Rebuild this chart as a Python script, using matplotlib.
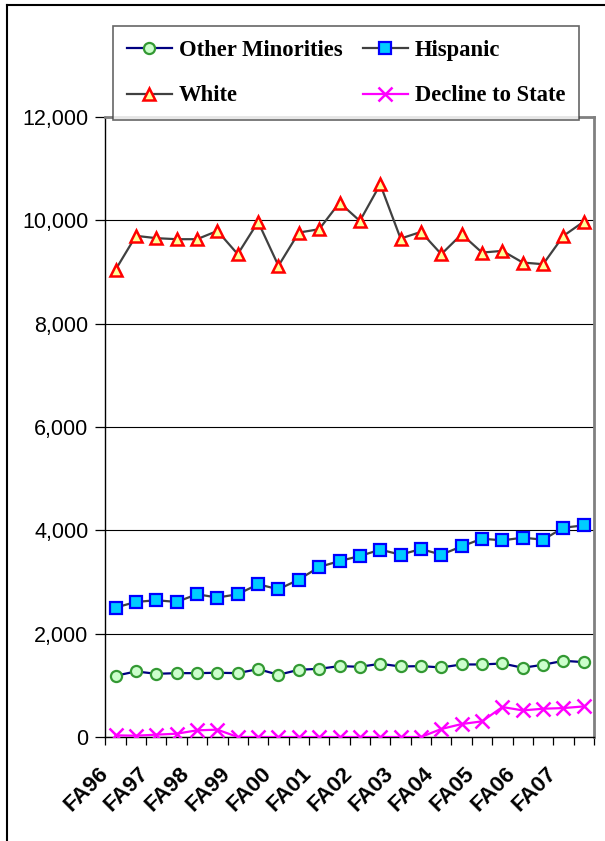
import matplotlib
matplotlib.use("Agg")
import matplotlib.pyplot as plt
from matplotlib.lines import Line2D
from matplotlib.ticker import FuncFormatter

# ---------------------------------------------------------------------------
# Data
# ---------------------------------------------------------------------------
terms = []
for yr in range(96, 108):
    terms.append("FA%02d" % (yr % 100))
    terms.append("SP%02d" % ((yr + 1) % 100))

other_minorities = [1185, 1269, 1223, 1236, 1236, 1243, 1236, 1314, 1204, 1301,
                    1320, 1372, 1359, 1417, 1365, 1372, 1346, 1404, 1404, 1423,
                    1340, 1398, 1475, 1449]
hispanic = [2505, 2614, 2647, 2614, 2763, 2699, 2763, 2956, 2859, 3047,
            3290, 3406, 3503, 3626, 3529, 3638, 3529, 3690, 3838, 3806,
            3858, 3819, 4051, 4096]
white = [9045, 9700, 9655, 9635, 9635, 9795, 9345, 9970, 9120, 9763,
         9828, 10343, 9988, 10697, 9647, 9776, 9345, 9731, 9376, 9409,
         9183, 9151, 9700, 9975]
decline = [32, 25, 45, 64, 129, 142, 0, 0, 0, 0,
           0, 0, 0, 0, 0, 0, 155, 251, 303, 580,
           515, 547, 560, 592]

y_ticks = [0, 2000, 4000, 6000, 8000, 10000, 12000]

# ---------------------------------------------------------------------------
# Plot
# ---------------------------------------------------------------------------
W, H = 605, 841
fig = plt.figure(figsize=(W / 100, H / 100), dpi=100)
ax = fig.add_axes([105 / W, 1 - 737 / H, (594 - 105) / W, (737 - 117) / H])

x = list(range(len(terms)))

ax.plot(x, other_minorities, color="#000080", lw=1.6, marker="o", ms=8,
        mfc="#CCFFCC", mec="#339933", mew=1.6, label="Other Minorities", zorder=4)
ax.plot(x, white, color="#404040", lw=1.6, marker="^", ms=9,
        mfc="#FFFF99", mec="#FF0000", mew=1.8, label="White", zorder=4)
ax.plot(x, hispanic, color="#404040", lw=1.6, marker="s", ms=8,
        mfc="#00CCFF", mec="#0000FF", mew=1.6, label="Hispanic", zorder=4)
ax.plot(x, decline, color="#FF00FF", lw=1.6, marker="x", ms=9.5,
        mec="#FF00FF", mew=1.8, label="Decline to State", zorder=4)

ax.set_xlim(-0.5, len(terms) - 0.5)
ax.set_ylim(0, 12000)
ax.set_yticks(y_ticks)
ax.yaxis.set_major_formatter(FuncFormatter(lambda v, p: "{:,.0f}".format(v)))
ax.yaxis.grid(True, color="black", lw=0.8)
ax.set_axisbelow(True)

# fall terms get labels (invisible major ticks nudged left so the rotated
# text ends under its category); every category boundary gets a tick mark
label_off = 0.52
ax.set_xticks([i - label_off for i in x[::2]])
ax.set_xticklabels(terms[::2], rotation=45, ha="right", va="center",
                   rotation_mode="anchor", fontsize=16, fontweight="bold",
                   family="Liberation Sans")
ax.set_xticks([i - 0.5 for i in range(len(terms) + 1)], minor=True)
ax.tick_params(axis="x", which="major", length=0, pad=24)
ax.tick_params(axis="x", which="minor", length=6, width=0.9, direction="out")
ax.tick_params(axis="y", length=7, width=0.9, direction="out", pad=5)
for lab in ax.get_yticklabels():
    lab.set_family("Liberation Sans")
    lab.set_fontsize(15.5)

for side in ("top", "right"):
    ax.spines[side].set_color("#808080")
    ax.spines[side].set_linewidth(2)
for side in ("left", "bottom"):
    ax.spines[side].set_color("black")
    ax.spines[side].set_linewidth(1)

handles, labels = ax.get_legend_handles_labels()
leg = fig.legend(handles, labels, ncol=2, loc="upper left",
                 bbox_to_anchor=(113 / W, 1 - 26 / H),
                 prop={"family": "Liberation Serif", "weight": "bold", "size": 16.3},
                 frameon=True, fancybox=False, edgecolor="#404040",
                 handlelength=2.0, handletextpad=0.3, columnspacing=0.9,
                 labelspacing=1.1, borderpad=0.6, borderaxespad=0)
leg.get_frame().set_linewidth(1.2)

# outer chart frame (cut by the image edges on right and bottom)
fig.add_artist(Line2D([7 / W, 1.0], [1 - 5 / H, 1 - 5 / H],
                      transform=fig.transFigure, color="black", lw=1.5))
fig.add_artist(Line2D([7 / W, 7 / W], [1 - 5 / H, 0.0],
                      transform=fig.transFigure, color="black", lw=1.5))

fig.savefig("out.png", dpi=100)
